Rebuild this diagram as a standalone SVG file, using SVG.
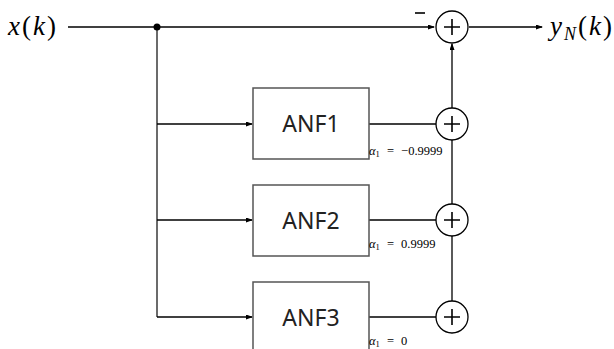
<svg xmlns="http://www.w3.org/2000/svg" width="614" height="349" viewBox="0 0 614 349">
<style>
.w{stroke:#000;stroke-width:1.3;fill:none}
.g{stroke:#6b6b6b;stroke-width:2;fill:none}
.box{fill:#fff;stroke:#555;stroke-width:1.5}
.sum{fill:#fff;stroke:#000;stroke-width:1.3}
.plus{stroke:#000;stroke-width:1.6}
.m{font-family:"Liberation Serif",serif;font-size:27px;letter-spacing:2px}
.i{font-style:italic}
.lbl{font-family:"Noto Sans","DejaVu Sans",sans-serif;font-size:23px;fill:#222}
.a{font-family:"Liberation Serif",serif;font-size:12.5px;word-spacing:4px}
</style>
<defs>
<marker id="ar" markerWidth="7" markerHeight="5" refX="6" refY="2.5" orient="auto" markerUnits="userSpaceOnUse">
<path d="M0,0 L7,2.5 L0,5 z" fill="#000"/>
</marker>
</defs>
<g id="connectors">
<line class="w" x1="68" y1="27" x2="434" y2="27" marker-end="url(#ar)"/>
<line class="w" x1="469" y1="27" x2="542" y2="27" marker-end="url(#ar)"/>
<line class="g" x1="157" y1="27" x2="157" y2="317"/>
<line class="w" x1="157" y1="124" x2="252" y2="124" marker-end="url(#ar)"/>
<line class="w" x1="157" y1="220" x2="252" y2="220" marker-end="url(#ar)"/>
<line class="w" x1="157" y1="317" x2="252" y2="317" marker-end="url(#ar)"/>
<line class="w" x1="369" y1="124" x2="436" y2="124"/>
<line class="w" x1="369" y1="220" x2="436" y2="220"/>
<line class="w" x1="369" y1="317" x2="436" y2="317"/>
<line class="w" x1="452" y1="301" x2="452" y2="236"/>
<line class="w" x1="452" y1="204" x2="452" y2="140"/>
<line class="w" x1="452" y1="108" x2="452" y2="44" marker-end="url(#ar)"/>
<circle cx="157" cy="27" r="3.5" fill="#000"/>
</g>
<g id="input"><text class="m" x="8" y="35"><tspan class="i">x</tspan>(<tspan class="i">k</tspan>)</text></g>
<g id="output"><text class="m" x="550" y="35"><tspan class="i">y</tspan><tspan class="i" font-size="18" dy="5">N</tspan><tspan dy="-5">(</tspan><tspan class="i">k</tspan>)</text></g>
<g id="sum0"><circle class="sum" cx="452" cy="27" r="16"/><path class="plus" d="M444,27h16M452,19v16"/><line class="plus" x1="415" y1="13" x2="425" y2="13" stroke-width="2"/></g>
<g id="anf1"><rect class="box" x="253" y="88" width="116" height="71"/><text class="lbl" x="311" y="132" text-anchor="middle">ANF1</text><text class="a" x="369" y="155"><tspan font-style="italic">α</tspan><tspan font-size="8.5" dy="2">1</tspan><tspan dy="-2"> = −0.9999</tspan></text></g>
<g id="anf2"><rect class="box" x="253" y="185" width="116" height="71"/><text class="lbl" x="311" y="229" text-anchor="middle">ANF2</text><text class="a" x="369" y="248"><tspan font-style="italic">α</tspan><tspan font-size="8.5" dy="2">1</tspan><tspan dy="-2"> = 0.9999</tspan></text></g>
<g id="anf3"><rect class="box" x="253" y="282" width="116" height="71"/><text class="lbl" x="311" y="326" text-anchor="middle">ANF3</text><text class="a" x="369" y="345"><tspan font-style="italic">α</tspan><tspan font-size="8.5" dy="2">1</tspan><tspan dy="-2"> = 0</tspan></text></g>
<g id="sum1"><circle class="sum" cx="452" cy="124" r="16"/><path class="plus" d="M444,124h16M452,116v16"/></g>
<g id="sum2"><circle class="sum" cx="452" cy="220" r="16"/><path class="plus" d="M444,220h16M452,212v16"/></g>
<g id="sum3"><circle class="sum" cx="452" cy="317" r="16"/><path class="plus" d="M444,317h16M452,309v16"/></g>
</svg>
